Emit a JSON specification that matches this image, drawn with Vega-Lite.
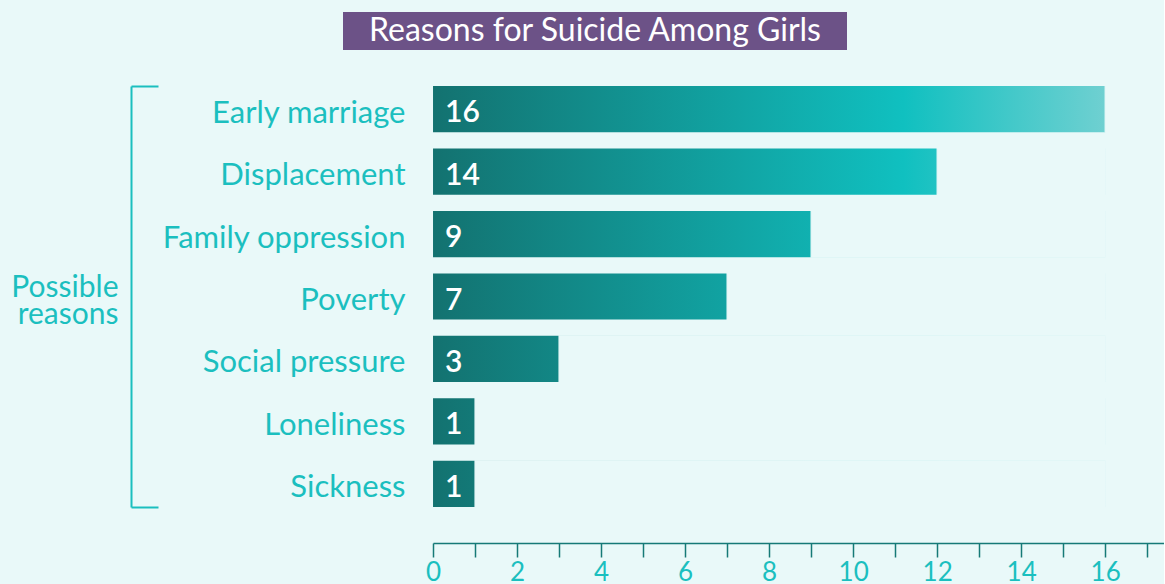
{
  "$schema": "https://vega.github.io/schema/vega-lite/v6.json",
  "background": "#e9f9f9",
  "padding": {"left": 10, "top": 12, "right": 0, "bottom": 0},
  "config": {"view": {"stroke": null}},
  "spacing": 20,
  "vconcat": [
    {
      "width": 504,
      "height": 38,
      "view": {"fill": "#6c5287", "stroke": null},
      "data": {"values": [{"title": "Reasons for Suicide Among Girls"}]},
      "mark": {"type": "text", "color": "#ffffff", "font": "Lato", "fontSize": 32, "align": "center", "baseline": "middle"},
      "encoding": {"text": {"field": "title"}}
    },
    {
      "width": 821,
      "height": 421,
      "data": {"values": [
        {"reason": "Early marriage", "count": 16, "label": "16"},
        {"reason": "Displacement", "count": 12, "label": "14"},
        {"reason": "Family oppression", "count": 9, "label": "9"},
        {"reason": "Poverty", "count": 7, "label": "7"},
        {"reason": "Social pressure", "count": 3, "label": "3"},
        {"reason": "Loneliness", "count": 1, "label": "1"},
        {"reason": "Sickness", "count": 1, "label": "1"}
      ]},
      "transform": [{"joinaggregate": [{"op": "max", "field": "count", "as": "maxCount"}]}],
      "layer": [
        {
          "mark": {"type": "bar", "fill": {"gradient": "linear", "x1": 0, "y1": 0, "x2": 1, "y2": 0, "stops": [
            {"offset": 0, "color": "#137270"},
            {"offset": 0.7, "color": "#10c0c0"},
            {"offset": 1, "color": "#6fd0d1"}
          ]}},
          "encoding": {
            "y": {"field": "reason", "type": "nominal", "sort": null, "title": ["Possible", "reasons"],
              "scale": {"paddingInner": 0.26, "paddingOuter": 0},
              "axis": {"offset": 212, "domain": true, "domainColor": "#1bbfbf", "domainWidth": 2,
                "ticks": true, "tickBand": "extent", "tickSize": -27, "tickColor": "#1bbfbf", "tickWidth": 2,
                "tickOpacity": {"condition": {"test": "datum.index === 1 || datum.index < 0", "value": 1}, "value": 0},
                "labelColor": "#1bbfbf", "labelFont": "Lato", "labelFontSize": 31, "labelPadding": -247, "labelLimit": 400, "labelOffset": 4,
                "titleAngle": 0, "titleAlign": "right", "titleBaseline": "middle", "titleY": 201, "titleColor": "#1bbfbf", "titleFont": "Lato",
                "titleFontSize": 30, "titleFontWeight": "normal", "titleLineHeight": 27, "titlePadding": -15}},
            "x": {"field": "maxCount", "type": "quantitative", "title": null,
              "scale": {"domain": [-2.1428, 17.4], "nice": false, "zero": false},
              "axis": {"values": [0,1,2,3,4,5,6,7,8,9,10,11,12,13,14,15,16,17], "grid": false, "offset": 36,
                "domainColor": "#167a77", "domainWidth": 1.5, "domainDash": [0, 90, 2000],
                "tickColor": "#167a77", "tickWidth": 1.5, "tickSize": 14,
                "labelPadding": 2, "labelFlush": false, "labelOverlap": false,
                "labelExpr": "datum.value % 2 === 0 ? datum.label : ''",
                "labelColor": "#1bbfbf", "labelFont": "Lato", "labelFontSize": 26,
                "encode": {
                  "ticks": {"update": {"y": {"signal": "datum.value % 2 === 0 ? -14 : -7"}, "y2": {"signal": "datum.value % 2 === 0 ? 14 : 7"}}}
                }}}
          }
        },
        {
          "mark": {"type": "bar", "fill": "#e9f9f9", "stroke": "#e9f9f9", "strokeWidth": 1.2},
          "encoding": {
            "y": {"field": "reason", "type": "nominal", "sort": null},
            "x": {"field": "count", "type": "quantitative"},
            "x2": {"field": "maxCount"}
          }
        },
        {
          "mark": {"type": "text", "align": "left", "baseline": "middle", "dx": 12, "dy": 4, "color": "#ffffff", "font": "Lato", "fontSize": 30, "fontWeight": 600},
          "encoding": {
            "y": {"field": "reason", "type": "nominal", "sort": null},
            "x": {"datum": 0, "type": "quantitative"},
            "text": {"field": "label"}
          }
        }
      ]
    }
  ]
}
